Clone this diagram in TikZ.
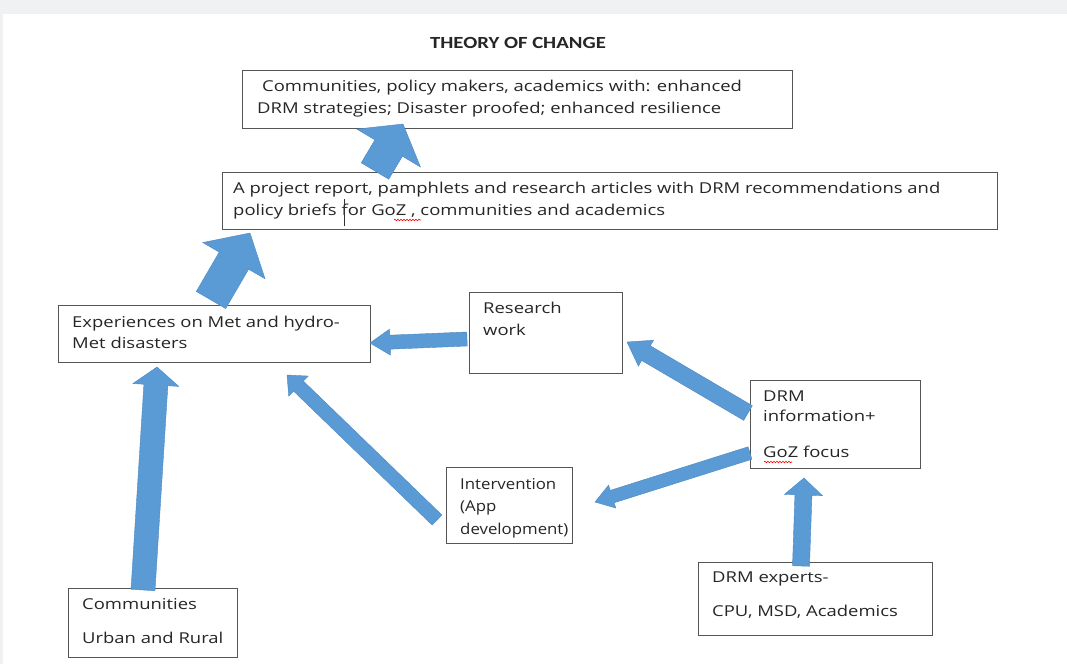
\documentclass[tikz,border=0pt]{standalone}
\usepackage{fontspec}
\setmainfont{Open Sans}[FakeStretch=1.23]
\newfontfamily\interfont{Open Sans}[FakeStretch=1.12]
\newfontfamily\titlefont{Carlito}[FakeStretch=1.22]
\usetikzlibrary{calc,decorations.pathmorphing}
\definecolor{arrowblue}{RGB}{91,155,213}
\definecolor{arrowedge}{RGB}{75,135,195}
\definecolor{bggray}{RGB}{240,241,243}
\definecolor{boxline}{RGB}{85,85,85}
\tikzset{
  boxnode/.style={draw=boxline, line width=1.1pt, fill=white, rectangle, inner sep=0pt, anchor=north west},
  txt/.style={font=\fontsize{15}{22}\selectfont, text=black!85, align=left, inner sep=0pt, anchor=base west},
  arrowfill/.style={fill=arrowblue, draw=arrowedge, line width=0.4pt, line join=miter},
  squiggle/.style={draw=red, line width=0.6pt, decorate, decoration={snake, amplitude=0.8pt, segment length=3pt}}
}
% tail, tip, shaft width, head width, head length
\newcommand\blockarrow[5]{%
  \path coordinate (ba-base) at ($(#2)!#5pt!(#1)$);
  \filldraw[arrowfill] ($(#1)!#3pt/2!90:(#2)$) -- ($(ba-base)!#3pt/2!90:(#2)$) -- ($(ba-base)!#4pt/2!90:(#2)$) -- (#2) -- ($(ba-base)!#4pt/2!-90:(#2)$) -- ($(ba-base)!#3pt/2!-90:(#2)$) -- ($(#1)!#3pt/2!-90:(#2)$) -- cycle;
}
\begin{document}
\begin{tikzpicture}[x=1pt, y=-1pt]
\useasboundingbox (0,0) rectangle (1067,664);
\fill[bggray] (0,0) rectangle (1067,664);
\fill[white] (3,14) rectangle (1067,664);

\node[font=\titlefont\bfseries\fontsize{17}{19}\selectfont, text=black!85] (title) at (518,43) {THEORY OF CHANGE};

% boxes
\node[boxnode, minimum width=550pt, minimum height=58pt] (b1) at (242,70) {};
\node[boxnode, minimum width=775pt, minimum height=57pt] (b2) at (222,172) {};
\node[boxnode, minimum width=312pt, minimum height=57pt] (b3) at (58,305) {};
\node[boxnode, minimum width=153pt, minimum height=81pt] (b4) at (469,292) {};
\node[boxnode, minimum width=170pt, minimum height=88pt] (b5) at (750,380) {};
\node[boxnode, minimum width=126pt, minimum height=76pt] (b6) at (446,467) {};
\node[boxnode, minimum width=169pt, minimum height=69pt] (b7) at (68,588) {};
\node[boxnode, minimum width=234pt, minimum height=73pt] (b8) at (698,562) {};

% texts (anchor = baseline of the last line)
\node[txt] (t1) at (257,113) {\hspace*{5pt}Communities, policy makers, academics with: enhanced\\DRM strategies; Disaster proofed; enhanced resilience};
\node[txt] (t2) at (233,215) {A project report, pamphlets and research articles with DRM recommendations and\\policy briefs for GoZ , communities and academics};
\node[txt, font=\fontsize{15}{21}\selectfont] (t3) at (72,348) {Experiences on Met and hydro-\\Met disasters};
\node[txt] (t4) at (483,335) {Research\\work};
\node[txt, font=\fontsize{15}{20}\selectfont] (t5) at (763,457) {DRM\\information+\\[16pt]GoZ focus};
\node[txt, font=\interfont\fontsize{15}{22.5}\selectfont] (t6) at (460,534) {Intervention\\(App\\development)};
\node[txt] (t7) at (82,643) {Communities\\[12pt]Urban and Rural};
\node[txt] (t8) at (712,616) {DRM experts-\\[12pt]CPU, MSD, Academics};

% spell-check marks and cursor
\coordinate (sq1a) at (394,220); \coordinate (sq1b) at (421,220);
\draw[squiggle] (sq1a) -- (sq1b);
\coordinate (sq2a) at (764,462); \coordinate (sq2b) at (792,462);
\draw[squiggle] (sq2a) -- (sq2b);
\coordinate (cur1) at (344,199); \coordinate (cur2) at (344,226);
\draw[black!80, line width=0.8pt] (cur1) -- (cur2);

% arrow end points
\coordinate (aT) at (375,171); \coordinate (aH) at (403,124);
\coordinate (bT) at (211,300); \coordinate (bH) at (250,233);
\coordinate (cT) at (143,590); \coordinate (cH) at (157,367);
\coordinate (dT) at (437,520); \coordinate (dH) at (287,375);
\coordinate (eT) at (467,339); \coordinate (eH) at (370,343);
\coordinate (fT) at (748,413); \coordinate (fH) at (627,342);
\coordinate (gT) at (750,453); \coordinate (gH) at (595,502);
\coordinate (hT) at (801,566); \coordinate (hH) at (804,478);

\blockarrow{aT}{aH}{32}{74}{28}
\blockarrow{bT}{bH}{34}{72}{32}
\blockarrow{cT}{cH}{24}{46}{18}
\blockarrow{dT}{dH}{14}{28}{16}
\blockarrow{eT}{eH}{14}{26}{20}
\blockarrow{fT}{fH}{17}{30}{22}
\blockarrow{gT}{gH}{13}{24}{18}
\blockarrow{hT}{hH}{17}{38}{17}
\end{tikzpicture}
\end{document}
